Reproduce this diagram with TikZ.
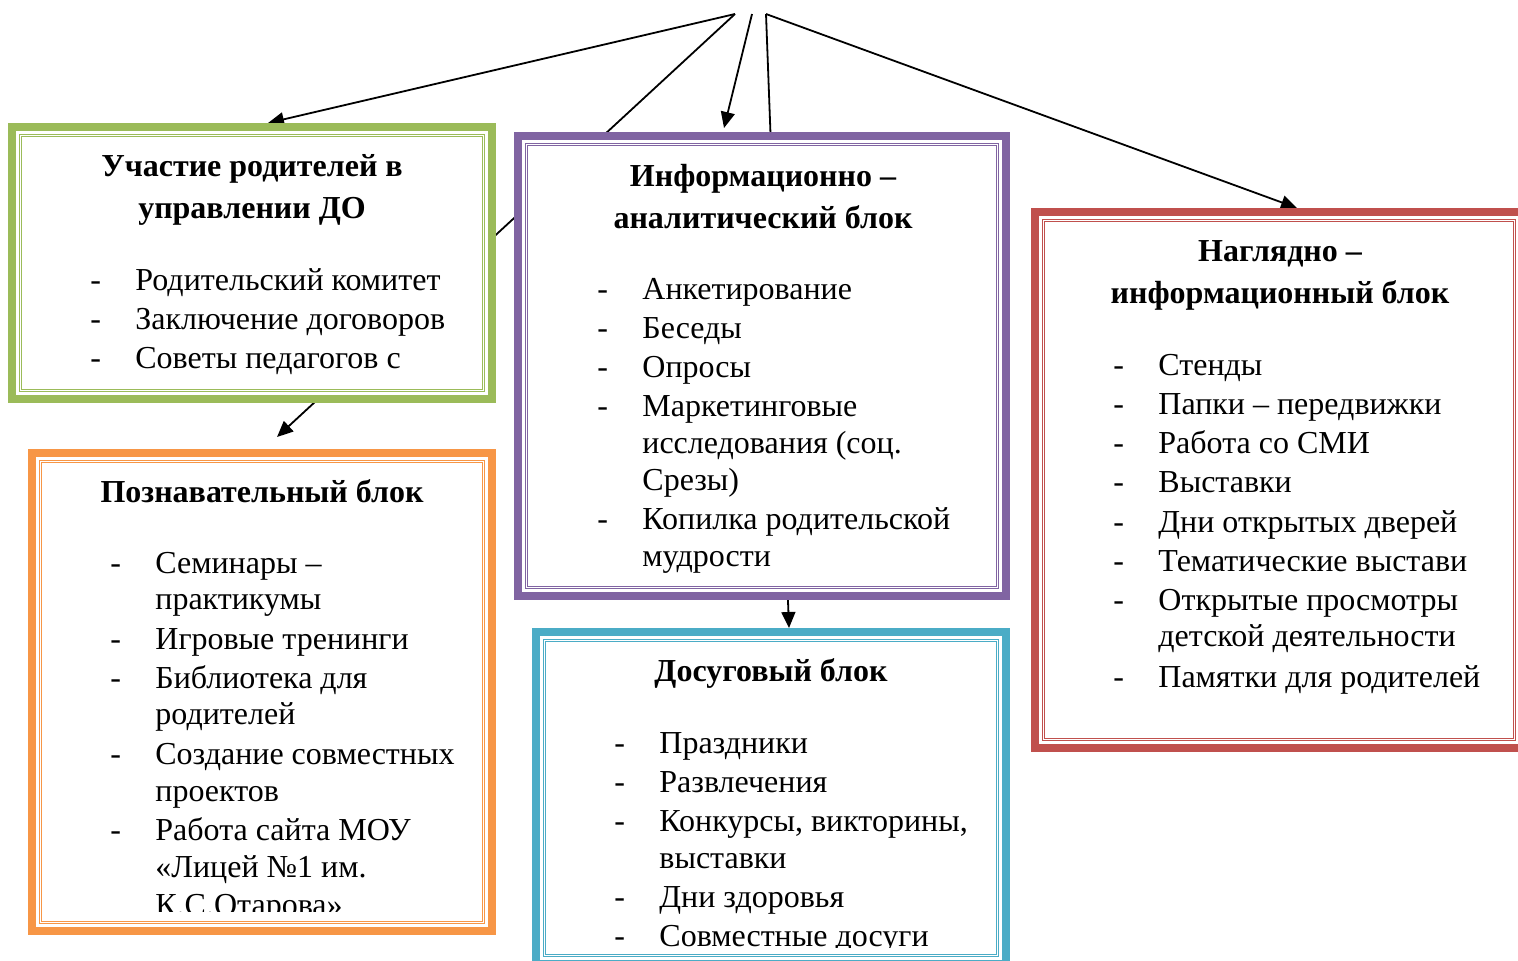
\documentclass[tikz,border=0pt]{standalone}
\usepackage{fontspec}
\setmainfont{Liberation Serif}
\usetikzlibrary{arrows.meta,calc,backgrounds}
\definecolor{cgreen}{HTML}{9BBB59}
\definecolor{cpurple}{HTML}{8064A2}
\definecolor{cred}{HTML}{C0504D}
\definecolor{corange}{HTML}{F79646}
\definecolor{cteal}{HTML}{4BACC6}
\newcommand\blockframe[2]{%
  \draw[#2, line width=0.6pt] ([shift={(3.8pt,-3.8pt)}]#1.north west) rectangle ([shift={(-3.8pt,3.8pt)}]#1.south east);
  \draw[#2, line width=0.5pt] ([shift={(4.95pt,-4.95pt)}]#1.north west) rectangle ([shift={(-4.95pt,4.95pt)}]#1.south east);
}
\newcommand\dashitem[4]{%
  \node[itemtxt] (#1d) at (#2,#3) {-};
  \node[itemtxt] (#1) at ([xshift=22.5pt]#1d.base west) {#4};
}
\newcommand\contitem[4]{%
  \node[itemtxt] (#1) at (#2+45,#3) {#4};
}
\begin{document}
\begin{tikzpicture}[x=0.5pt,y=-0.5pt,
  block/.style={draw=#1, line width=4pt, fill=white, inner sep=0pt, outer sep=0pt, rectangle},
  title/.style={font=\bfseries\fontsize{16}{19}\selectfont, anchor=base, inner sep=0pt},
  itemtxt/.style={font=\fontsize{16}{19}\selectfont, anchor=base west, inner sep=0pt},
  conn/.style={line width=0.9pt, black},
  arr/.style={conn, -{Triangle[length=8pt,width=7pt]}}]
\useasboundingbox (0,0) rectangle (1518,960);

% boxes
\node[block=cgreen, minimum width=240pt, minimum height=136pt] (green) at (252,263) {};
\node[block=corange, minimum width=230pt, minimum height=239pt] (orange) at (262,692) {};
\node[block=cpurple, minimum width=244pt, minimum height=230pt] (purple) at (762,366) {};
\node[block=cteal, minimum width=235pt, minimum height=166pt] (teal) at (771,798) {};
\node[block=cred, minimum width=244pt, minimum height=268pt] (red) at (1279,480) {};
\blockframe{green}{cgreen}
\blockframe{orange}{corange}
\blockframe{purple}{cpurple}
\blockframe{teal}{cteal}
\blockframe{red}{cred}

% connectors
\coordinate (s1) at (735,14);
\coordinate (s2) at (752,14);
\coordinate (s3) at (766,14);
\begin{scope}[on background layer]
\fill[white] (0,0) rectangle (1518,960);
\draw[arr] (s1) -- ([xshift=8pt,yshift=2pt]green.north);
\draw[arr] (s1) -- ([xshift=7.5pt,yshift=8pt]orange.north);
\draw[arr] (s2) -- ([xshift=-19pt,yshift=4pt]purple.north);
\draw[arr] (s3) -- ([xshift=9pt,yshift=2pt]teal.north);
\draw[arr] (s3) -- ([xshift=9pt,yshift=2pt]red.north);
\end{scope}

% green text
\node[title] (gt1) at (252,176) {Участие родителей в};
\node[title] (gt2) at (252,218) {управлении ДО};
\dashitem{g1}{90}{290}{Родительский комитет}
\dashitem{g2}{90}{329}{Заключение договоров}
\dashitem{g3}{90}{368}{Советы педагогов с}

% purple text
\node[title] (pt1) at (763,186) {Информационно –};
\node[title] (pt2) at (763,228) {аналитический блок};
\dashitem{p1}{597}{299.5}{Анкетирование}
\dashitem{p2}{597}{338.5}{Беседы}
\dashitem{p3}{597}{377.5}{Опросы}
\dashitem{p4}{597}{416.5}{Маркетинговые}
\contitem{p5}{597}{453.5}{исследования (соц.}
\contitem{p6}{597}{490.5}{Срезы)}
\dashitem{p7}{597}{529.5}{Копилка родительской}
\contitem{p8}{597}{566.5}{мудрости}

% red text
\node[title] (rt1) at (1280,261) {Наглядно –};
\node[title] (rt2) at (1280,303) {информационный блок};
\dashitem{r1}{1113}{375.5}{Стенды}
\dashitem{r2}{1113}{414.5}{Папки – передвижки}
\dashitem{r3}{1113}{453.5}{Работа со СМИ}
\dashitem{r4}{1113}{492.5}{Выставки}
\dashitem{r5}{1113}{532.5}{Дни открытых дверей}
\dashitem{r6}{1113}{571.5}{Тематические выстави}
\dashitem{r7}{1113}{610.5}{Открытые просмотры}
\contitem{r8}{1113}{646.5}{детской деятельности}
\dashitem{r9}{1113}{687.5}{Памятки для родителей}

% orange text
\begin{scope}
\clip (32,453) rectangle (492,911);
\node[title] (ot1) at (262,502) {Познавательный блок};
\dashitem{o1}{110}{573.5}{Семинары –}
\contitem{o2}{110}{609.5}{практикумы}
\dashitem{o3}{110}{649.5}{Игровые тренинги}
\dashitem{o4}{110}{688.5}{Библиотека для}
\contitem{o5}{110}{724.5}{родителей}
\dashitem{o6}{110}{764.5}{Создание совместных}
\contitem{o7}{110}{801.5}{проектов}
\dashitem{o8}{110}{840.5}{Работа сайта МОУ}
\contitem{o9}{110}{877.5}{«Лицей №1 им.}
\contitem{o10}{110}{915}{К.С.Отарова»}
\end{scope}

% teal text
\begin{scope}
\clip (536,632) rectangle (1006,947);
\node[title] (tt1) at (771,681) {Досуговый блок};
\dashitem{t1}{614}{753.5}{Праздники}
\dashitem{t2}{614}{792.5}{Развлечения}
\dashitem{t3}{614}{831.5}{Конкурсы, викторины,}
\contitem{t4}{614}{868.5}{выставки}
\dashitem{t5}{614}{907.5}{Дни здоровья}
\dashitem{t6}{614}{946.5}{Совместные досуги}
\end{scope}
\end{tikzpicture}
\end{document}
